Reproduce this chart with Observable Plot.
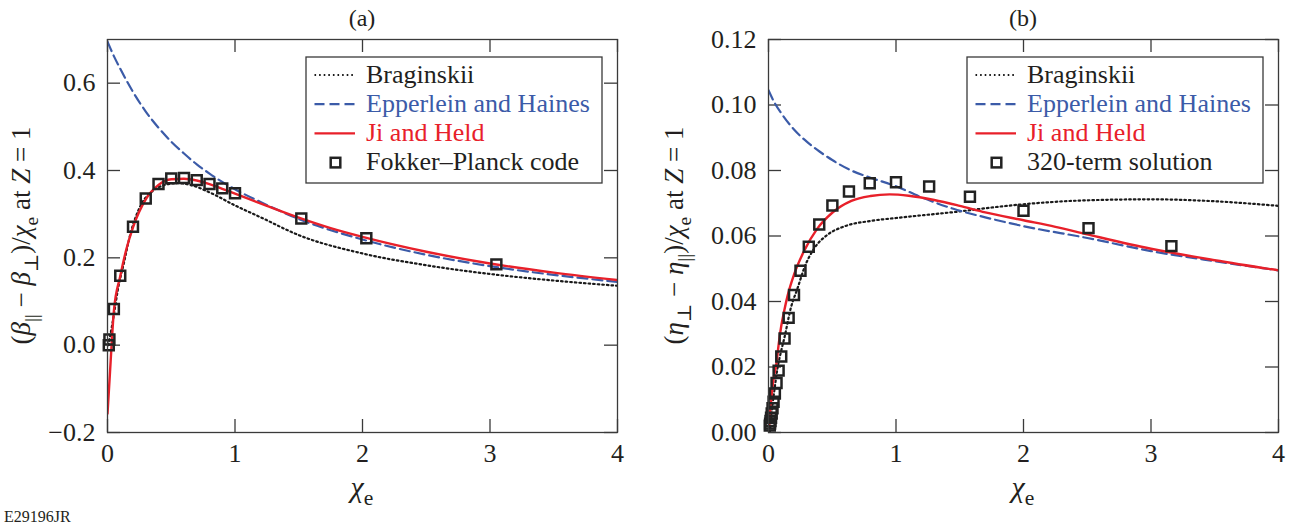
<!DOCTYPE html>
<html>
<head>
<meta charset="utf-8">
<script src="https://cdn.jsdelivr.net/npm/d3@7"></script>
<script src="https://cdn.jsdelivr.net/npm/@observablehq/plot@0.6"></script>
<style>
  html, body { margin: 0; padding: 0; background: #fff; }
  body { width: 1289px; height: 527px; overflow: hidden; position: relative;
         font-family: "Liberation Serif", "DejaVu Serif", serif; color: #231f20; }
  #row { display: flex; width: 1289px; }
  #row > svg { flex: none; }
  #row svg, #row svg text, #row svg tspan { font-family: "Liberation Serif", "DejaVu Serif", serif !important; }
  #caption { position: absolute; left: 4px; top: 509px; font-size: 16px; line-height: 16px; color: #231f20; }
</style>
</head>
<body>
<div id="row"></div>
<div id="caption">E29196JR</div>
<script>
// ---------- data ----------
const xTicks = [0, 1, 2, 3, 4];
const yTicksA = [-0.2, 0, 0.2, 0.4, 0.6];
const yTicksB = [0, 0.02, 0.04, 0.06, 0.08, 0.10, 0.12];

const legendNames = ["Braginskii", "Epperlein and Haines", "Ji and Held"];
const markerNameA = "Fokker–Planck code";
const markerNameB = "320-term solution";

// Panel (a): (β∥ − β⊥)/χe at Z = 1
const braginskiiA = [[0.005,0.0],[0.02,0.02],[0.05,0.07],[0.08,0.125],[0.13,0.19],[0.18,0.255],[0.26,0.32],[0.35,0.352],[0.45,0.367],[0.55,0.371],[0.65,0.367],[0.8,0.35],[1.0,0.32],[1.2,0.293],[1.5,0.252],[2.0,0.21],[2.5,0.183],[3.0,0.163],[3.5,0.148],[4.0,0.136]];
const epperleinA = [[0,0.695],[0.05,0.662],[0.1,0.633],[0.2,0.58],[0.3,0.535],[0.4,0.498],[0.5,0.466],[0.6,0.439],[0.7,0.414],[0.8,0.393],[0.9,0.374],[1.0,0.357],[1.2,0.328],[1.5,0.289],[2.0,0.242],[2.5,0.207],[3.0,0.181],[3.5,0.161],[4.0,0.145]];
const jiHeldA = [[0,-0.157],[0.02,-0.06],[0.05,0.078],[0.1,0.158],[0.15,0.222],[0.2,0.27],[0.3,0.334],[0.4,0.367],[0.5,0.38],[0.6,0.381],[0.7,0.377],[0.8,0.369],[0.9,0.358],[1.0,0.347],[1.25,0.319],[1.5,0.292],[1.75,0.268],[2.0,0.248],[2.5,0.214],[3.0,0.187],[3.5,0.166],[4.0,0.149]];
const fokkerPlanckA = [[0.01,0.0],[0.015,0.013],[0.05,0.083],[0.1,0.159],[0.2,0.271],[0.3,0.336],[0.4,0.369],[0.5,0.382],[0.6,0.383],[0.7,0.378],[0.8,0.369],[0.9,0.359],[1.0,0.348],[1.52,0.29],[2.03,0.245],[3.05,0.185]];

// Panel (b): (η⊥ − η∥)/χe at Z = 1
const braginskiiB = [[0.01,0.0],[0.03,0.008],[0.05,0.014],[0.07,0.0195],[0.1,0.025],[0.125,0.029],[0.175,0.038],[0.23,0.0443],[0.28,0.0502],[0.36,0.0563],[0.46,0.0603],[0.6,0.063],[0.8,0.0646],[1.0,0.0655],[1.2,0.0663],[1.5,0.0675],[1.75,0.0687],[2.0,0.0697],[2.5,0.0709],[3.0,0.0712],[3.5,0.0706],[4.0,0.0692]];
const epperleinB = [[0,0.1045],[0.05,0.1005],[0.1,0.0975],[0.2,0.0925],[0.3,0.0888],[0.4,0.0858],[0.5,0.0832],[0.65,0.0800],[0.8,0.0778],[1.0,0.0752],[1.2,0.0718],[1.45,0.0683],[1.7,0.0657],[2.0,0.063],[2.5,0.0594],[3.0,0.0554],[3.5,0.0523],[4.0,0.0495]];
const jiHeldB = [[0.005,0.002],[0.012,0.006],[0.023,0.0107],[0.04,0.0165],[0.062,0.021],[0.08,0.027],[0.1,0.0325],[0.125,0.0375],[0.15,0.0418],[0.2,0.0482],[0.28,0.0555],[0.38,0.0621],[0.5,0.0671],[0.65,0.0707],[0.8,0.0722],[0.95,0.0727],[1.1,0.0723],[1.3,0.071],[1.5,0.0692],[1.7,0.0672],[2.0,0.0648],[2.25,0.0628],[2.5,0.0605],[3.0,0.0561],[3.5,0.0526],[4.0,0.0495]];
const termSolutionB = [[0.01,0.0021],[0.0126,0.0027],[0.0158,0.0035],[0.02,0.0045],[0.0251,0.0058],[0.0316,0.0074],[0.0398,0.0094],[0.0501,0.0119],[0.0631,0.0151],[0.0794,0.0189],[0.1,0.0232],[0.126,0.0287],[0.158,0.035],[0.2,0.042],[0.251,0.0494],[0.316,0.0567],[0.398,0.0635],[0.501,0.0693],[0.631,0.0736],[0.794,0.0761],[1.0,0.0764],[1.26,0.0751],[1.58,0.072],[2.0,0.0677],[2.51,0.0624],[3.16,0.0569]];

// ---------- styles ----------
const FONT = '"Liberation Serif", "DejaVu Serif", serif';
const INK = "#231f20";
const FRAME = "#3a3a3a";
const COL_BRAG = "#1a1a1a", COL_EH = "#3b5ba8", COL_JH = "#e8202a";
const DASH_BRAG = "1.6,3", DASH_EH = "10,5";

const H = 500, MT = 39, MB = 68, TICK = 13;

function richText(sel, parts, fs) {
  let shift = 0;
  for (const p of parts) {
    const ts = sel.append("tspan").text(p.t);
    if (p.i) ts.attr("font-style", "italic");
    const target = p.sub ? fs * 0.28 : 0;
    if (target !== shift) { ts.attr("dy", target - shift); shift = target; }
    if (p.sub) ts.attr("font-size", fs * 0.72);
  }
}

function panel(cfg) {
  const W = cfg.width, ML = cfg.ml, MR = cfg.mr;
  const fw = W - ML - MR, fh = H - MT - MB;
  const toPts = a => a.map(([x, y]) => ({x, y}));
  const svg = Plot.plot({
    width: W, height: H, marginLeft: ML, marginRight: MR, marginTop: MT, marginBottom: MB,
    style: {fontFamily: FONT, fontSize: "26px", color: INK, background: "white", overflow: "visible"},
    x: {domain: [0, 4], label: null},
    y: {domain: cfg.yDomain, label: null},
    marks: [
      Plot.axisX(xTicks, {tickSize: 0, tickPadding: 11, tickFormat: d => String(d), label: null, fill: INK}),
      Plot.axisY(cfg.yTicks, {tickSize: 0, tickPadding: 12, tickFormat: cfg.fmt, label: null, fill: INK}),
      Plot.tickX(xTicks, {x: d => d, insetTop: fh - TICK, stroke: FRAME, strokeWidth: 1.3}),
      Plot.tickX(xTicks, {x: d => d, insetBottom: fh - TICK, stroke: FRAME, strokeWidth: 1.3}),
      Plot.tickY(cfg.yTicks, {y: d => d, insetRight: fw - TICK, stroke: FRAME, strokeWidth: 1.3}),
      Plot.tickY(cfg.yTicks, {y: d => d, insetLeft: fw - TICK, stroke: FRAME, strokeWidth: 1.3}),
      Plot.line(toPts(cfg.brag), {x: "x", y: "y", stroke: COL_BRAG, strokeWidth: 2.2, strokeDasharray: DASH_BRAG, curve: "monotone-x", clip: true}),
      Plot.line(toPts(cfg.eh), {x: "x", y: "y", stroke: COL_EH, strokeWidth: 2.2, strokeDasharray: DASH_EH, curve: "monotone-x", clip: true}),
      Plot.line(toPts(cfg.jh), {x: "x", y: "y", stroke: COL_JH, strokeWidth: 2.4, curve: "monotone-x", clip: true}),
      Plot.dot(toPts(cfg.pts), {x: "x", y: "y", symbol: "square", r: 5.6, stroke: "#222", strokeWidth: 2.5, fill: "none"}),
      Plot.frame({stroke: FRAME, strokeWidth: 1.3})
    ]
  });
  const s = d3.select(svg).attr("font-family", FONT);
  const cx = ML + fw / 2;
  // title
  s.append("text").attr("x", cx).attr("y", 26).attr("text-anchor", "middle")
    .attr("font-size", 24).attr("fill", INK).text(cfg.title);
  // x label
  const xl = s.append("text").attr("x", cx).attr("y", 497).attr("text-anchor", "middle")
    .attr("font-size", 30).attr("fill", INK).style("white-space", "pre");
  richText(xl, [{t: "χ", i: true}, {t: "e", sub: true}], 30);
  // y label
  const cy = MT + fh / 2;
  const yl = s.append("text").attr("transform", `translate(${ML + cfg.ylabOffset},${cy}) rotate(-90)`)
    .attr("text-anchor", "middle").attr("font-size", 27).attr("fill", INK).style("white-space", "pre");
  richText(yl, cfg.ylabel, 27);
  // legend
  const bx = ML + fw - 15 - 296, by = MT + 18, bw = 296, bh = 126;
  const lg = s.append("g").attr("text-anchor", "start");
  lg.append("rect").attr("x", bx).attr("y", by).attr("width", bw).attr("height", bh)
    .attr("fill", "white").attr("stroke", FRAME).attr("stroke-width", 1.3);
  const rows = [
    {name: legendNames[0], color: COL_BRAG, text: INK, dash: DASH_BRAG, w: 2.2},
    {name: legendNames[1], color: COL_EH, text: COL_EH, dash: DASH_EH, w: 2.2},
    {name: legendNames[2], color: COL_JH, text: COL_JH, dash: null, w: 2.4},
    {name: cfg.markerName, color: "#222", text: INK, marker: true}
  ];
  rows.forEach((r, i) => {
    const ry = by + 18 + i * 29.2;
    if (r.marker) {
      lg.append("rect").attr("x", bx + 29.5 - 4.8).attr("y", ry - 4.8).attr("width", 9.6).attr("height", 9.6)
        .attr("fill", "none").attr("stroke", r.color).attr("stroke-width", 2.5);
    } else {
      const ln = lg.append("line").attr("x1", bx + 8.5).attr("x2", bx + 49).attr("y1", ry).attr("y2", ry)
        .attr("stroke", r.color).attr("stroke-width", r.w);
      if (r.dash) ln.attr("stroke-dasharray", r.dash);
    }
    lg.append("text").attr("x", bx + 60).attr("y", ry + 7.5).attr("font-size", 26)
      .attr("text-anchor", "start").attr("fill", r.text).text(r.name);
  });
  return svg;
}

const fmtA = d => (d < 0 ? "\u2212" + Math.abs(d).toFixed(1) : d.toFixed(1));
const fmtB = d => d.toFixed(2);

const row = document.getElementById("row");
row.appendChild(panel({
  width: 640, ml: 107, mr: 23, yDomain: [-0.2, 0.7], yTicks: yTicksA, fmt: fmtA, title: "(a)",
  brag: braginskiiA, eh: epperleinA, jh: jiHeldA, pts: fokkerPlanckA, markerName: markerNameA,
  ylabOffset: -77,
  ylabel: [{t: "("}, {t: "β", i: true}, {t: "||", sub: true}, {t: " − "}, {t: "β", i: true}, {t: "⊥", sub: true},
           {t: ")/"}, {t: "χ", i: true}, {t: "e", sub: true}, {t: " at "}, {t: "Z", i: true}, {t: " = 1"}]
}));
row.appendChild(panel({
  width: 649, ml: 128, mr: 11, yDomain: [0, 0.12], yTicks: yTicksB, fmt: fmtB, title: "(b)",
  brag: braginskiiB, eh: epperleinB, jh: jiHeldB, pts: termSolutionB, markerName: markerNameB,
  ylabOffset: -85,
  ylabel: [{t: "("}, {t: "η", i: true}, {t: "⊥", sub: true}, {t: " − "}, {t: "η", i: true}, {t: "||", sub: true},
           {t: ")/"}, {t: "χ", i: true}, {t: "e", sub: true}, {t: " at "}, {t: "Z", i: true}, {t: " = 1"}]
}));
</script>
</body>
</html>
